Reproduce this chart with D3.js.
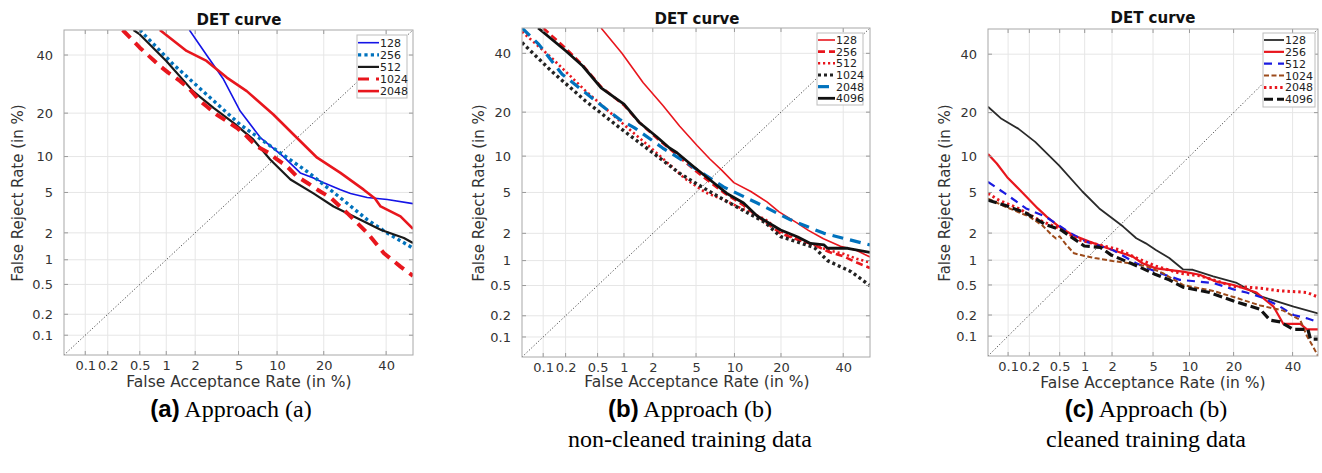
<!DOCTYPE html>
<html><head><meta charset="utf-8">
<script src="https://cdn.jsdelivr.net/npm/d3@7"></script>
<style>body{margin:0;background:#fff;} svg{display:block;font-family:"DejaVu Sans",sans-serif;}</style>
</head><body><svg id="chart" width="1322" height="473"></svg>
<script>
// ---------- data (percent: [FAR, FRR]) ----------
const tickValues = [0.1, 0.2, 0.5, 1, 2, 5, 10, 20, 40];
const tickLabels = ["0.1", "0.2", "0.5", "1", "2", "5", "10", "20", "40"];
const axisDomain = [0.05, 50];
const panelTitle = "DET curve";
const xTitle = "False Acceptance Rate (in %)";
const yTitle = "False Reject Rate (in %)";

// Panel (a) Approach (a)
const namesA = ["128", "256", "512", "1024", "2048"];
const a128 = [[1.75,50],[2.58,40],[3.7,30.9],[5.16,20.6],[7.5,13.8],[11.1,10],[14.4,7.4],[17.4,6.7],[20,6.1],[24.7,5.3],[27.8,4.9],[33.3,4.5],[40.4,4.3],[50,3.94]];
const a256 = [[0.5,50],[1.19,36.4],[2.58,25.7],[5.16,16.9],[9.4,11.6],[15.9,7.6],[24.7,4.46],[33.3,2.74],[40.4,1.99],[50,1.36]];
const a512 = [[0.42,50],[0.5,48.2],[1.0,37.7],[1.9,26.8],[3,21.5],[4.5,17.4],[6.6,13.4],[8.9,9.5],[12.4,6.5],[17.4,4.9],[22.7,3.7],[31,2.74],[38,2.16],[46.6,1.76],[50,1.55]];
const a1024 = [[0.31,50],[0.5,42.9],[0.85,35.8],[1.05,33.3],[1.4,30.3],[1.77,27.4],[2.23,23.6],[2.58,22],[3.2,19.6],[3.96,17.8],[4.83,16.1],[5.85,14.1],[7,12],[8.65,10.7],[10,9.5],[11.7,8.4],[13.7,6.9],[15.9,6.1],[19.1,5.1],[21.8,4.5],[26.7,3.2],[33.3,2.0],[39.2,1.19],[45.3,0.83],[50,0.64]];
const a2048 = [[0.85,50],[1.64,41.6],[2.58,37.7],[3.96,31.5],[5.85,26.8],[9.4,19.6],[13,14.5],[18.3,9.8],[24.7,7.4],[32.1,5.3],[36,4.4],[38,3.7],[45.3,2.96],[50,2.2]];

// Panel (b) Approach (b), non-cleaned training data
const namesB = ["128", "256", "512", "1024", "2048", "4096"];
const b128 = [[0.55,50],[0.95,40],[1.6,29.2],[2.5,22],[3.6,16.3],[5.1,12],[6.5,9.5],[8,7.8],[9.9,6.1],[13,5.1],[16.5,4.1],[19.5,3.3],[24.6,2.55],[28,2.15],[33,1.75],[39,1.45],[45,1.3],[50,1.1]];
const b256 = [[0.1,50],[0.2,42],[0.33,35.5],[0.55,27.8],[1.0,22],[1.45,17.3],[2.17,13.6],[3.4,10.2],[5,7.6],[8.3,5.0],[11.6,3.8],[14.3,3.0],[19.9,2.0],[25,1.7],[30,1.5],[35,1.25],[40,1.12],[45,0.95],[50,0.82]];
const b512 = [[0.05,48.5],[0.13,38.3],[0.36,26.4],[0.9,17.6],[2,11.2],[2.9,8.6],[4,6.6],[6,5.0],[8.3,4.3],[12,3.4],[16,2.8],[19.9,2.1],[25,1.7],[30,1.5],[35,1.3],[40,1.2],[45,1.05],[50,0.95]];
const b1024 = [[0.05,44.2],[0.13,33.3],[0.36,23.2],[0.9,15.9],[2.0,10.6],[3.6,7.3],[5,6.0],[8.3,4.3],[12,3.3],[16,2.6],[19.9,1.85],[25,1.6],[30,1.4],[34.4,1.0],[42.9,0.74],[50,0.5]];
const b2048 = [[0.05,50],[0.087,43.5],[0.18,32.2],[0.4,24.8],[0.9,18],[1.3,15.9],[2.5,11.5],[4.2,8.8],[8.3,5.6],[14.3,4.0],[22.6,2.75],[33.2,2.0],[50,1.5]];
const b4096 = [[0.085,50],[0.2,41],[0.33,35.2],[0.55,27.5],[1.0,22.3],[1.45,17.3],[2.17,13.9],[2.9,11.5],[3.4,10.6],[4.75,8.3],[6.5,6.45],[8.8,4.9],[11.6,4.0],[14.3,3.0],[19.9,2.17],[24.6,1.84],[28.7,1.56],[33.2,1.5],[34.4,1.38],[41.6,1.38],[50,1.24]];

// Panel (c) Approach (b), cleaned training data
const namesC = ["128", "256", "512", "1024", "2048", "4096"];
const c128 = [[0.05,21.7],[0.08,18.3],[0.14,15.8],[0.24,12.8],[0.49,8.5],[0.94,5.1],[1.46,3.55],[2.6,2.34],[3.5,1.76],[4.3,1.55],[5.3,1.31],[6.9,1.06],[8.9,0.78],[10.6,0.77],[14.8,0.64],[20.9,0.53],[28.2,0.36],[40.4,0.26],[50,0.21]];
const c256 = [[0.05,10.4],[0.068,8.8],[0.097,6.8],[0.15,5.2],[0.26,3.55],[0.34,2.95],[0.49,2.34],[0.72,1.91],[1.13,1.62],[2.03,1.31],[3.24,1.1],[4,0.92],[5.3,0.8],[8.9,0.73],[11.9,0.67],[15.6,0.55],[20,0.5],[27,0.4],[32.9,0.26],[36.5,0.15],[43,0.15],[45.6,0.125],[50,0.125]];
const c512 = [[0.05,6.2],[0.09,4.9],[0.18,3.55],[0.33,2.95],[0.68,2.0],[1.03,1.62],[2.03,1.31],[3.5,0.92],[5.3,0.73],[8.4,0.58],[14.8,0.53],[20,0.44],[23.8,0.4],[29.3,0.34],[35.3,0.26],[40.4,0.2],[45.6,0.18],[50,0.16]];
const c1024 = [[0.05,4.4],[0.09,3.7],[0.2,2.95],[0.3,2.4],[0.4,1.9],[0.45,1.75],[0.5,1.85],[0.6,1.5],[0.75,1.2],[1.0,1.12],[1.3,1.06],[2.03,0.98],[3,0.92],[4.3,0.85],[6.1,0.7],[8.9,0.5],[14.8,0.42],[20,0.35],[28.2,0.27],[36.5,0.23],[43,0.17],[45.6,0.1],[48,0.07],[50,0.05]];
const c2048 = [[0.05,4.9],[0.073,4.25],[0.14,3.55],[0.27,2.73],[0.49,2.24],[0.86,1.69],[1.46,1.49],[2.4,1.31],[3.5,1.06],[5.3,0.85],[8.4,0.7],[11.9,0.65],[14.8,0.58],[20,0.48],[23.8,0.47],[29.3,0.45],[35.3,0.42],[41.6,0.41],[45.6,0.4],[50,0.35]];
const c4096 = [[0.05,4.25],[0.09,3.8],[0.18,3.2],[0.33,2.45],[0.52,2.16],[0.99,1.45],[1.5,1.4],[1.95,1.15],[3.1,0.92],[4,0.8],[5.2,0.68],[6.9,0.58],[8.9,0.47],[14,0.4],[20,0.31],[28.2,0.24],[31.6,0.17],[35.3,0.16],[40.4,0.125],[46,0.125],[47,0.09],[50,0.09]];

const captionTags = ["(a)", "(b)", "(c)"];
const captionMain = ["Approach (a)", "Approach (b)", "Approach (b)"];
const captionSub = ["", "non-cleaned training data", "cleaned training data"];

// ---------- helpers ----------
function probit(p) { // inverse normal CDF (Acklam)
  const a=[-3.969683028665376e+01,2.209460984245205e+02,-2.759285104469687e+02,1.383577518672690e+02,-3.066479806614716e+01,2.506628277459239e+00];
  const b=[-5.447609879822406e+01,1.615858368580409e+02,-1.556989798598866e+02,6.680131188771972e+01,-1.328068155288572e+01];
  const c=[-7.784894002430293e-03,-3.223964580411365e-01,-2.400758277161838e+00,-2.549732539343734e+00,4.374664141464968e+00,2.938163982698783e+00];
  const d=[7.784695709041462e-03,3.224671290700398e-01,2.445134137142996e+00,3.754408661907416e+00];
  const pl=0.02425, ph=1-pl; let q, r;
  if (p < pl) { q=Math.sqrt(-2*Math.log(p)); return (((((c[0]*q+c[1])*q+c[2])*q+c[3])*q+c[4])*q+c[5])/((((d[0]*q+d[1])*q+d[2])*q+d[3])*q+1); }
  if (p <= ph) { q=p-0.5; r=q*q; return (((((a[0]*r+a[1])*r+a[2])*r+a[3])*r+a[4])*r+a[5])*q/(((((b[0]*r+b[1])*r+b[2])*r+b[3])*r+b[4])*r+1); }
  q=Math.sqrt(-2*Math.log(1-p)); return -(((((c[0]*q+c[1])*q+c[2])*q+c[3])*q+c[4])*q+c[5])/((((d[0]*q+d[1])*q+d[2])*q+d[3])*q+1);
}
const pr = v => probit(v / 100);

const RED = "#e8161d", MBLUE = "#0072BD", BLUE = "#1414e6";

const panels = [
  { box:[64,30,413,355], names:namesA, data:[a128,a256,a512,a1024,a2048],
    styles:[{c:BLUE,w:1.6},{c:MBLUE,w:3.4,d:"3.2,3.2"},{c:"#1a1a1a",w:2.2},{c:RED,w:4,d:"11,7"},{c:RED,w:2.6}],
    legend:{x:357,y:35,w:50,h:63,r0:42.7,step:12.1,s0:358,s1:379,t:380},
    titleX:239, titleY:25, xlabY:387, ylabX:18, capX:231 },
  { box:[522,28,870,357], names:namesB, data:[b128,b256,b512,b1024,b2048,b4096],
    styles:[{c:RED,w:1.6},{c:RED,w:2.6,d:"7,4"},{c:RED,w:2.6,d:"2.2,2.8"},{c:"#222",w:3.4,d:"3,3"},{c:MBLUE,w:3.2,d:"11,7"},{c:"#111",w:2.8}],
    legend:{x:817,y:33,w:46,h:72,r0:40,step:11.66,s0:818,s1:835,t:836},
    titleX:697, titleY:24, xlabY:387, ylabX:479, capX:690 },
  { box:[988,29,1318,356], names:namesC, data:[c128,c256,c512,c1024,c2048,c4096],
    styles:[{c:"#2a2a2a",w:1.8},{c:RED,w:2.2},{c:"#1a1ae0",w:2.2,d:"8,6"},{c:"#9c4a1a",w:2,d:"5,2.5"},{c:RED,w:3,d:"2.4,3"},{c:"#111",w:3.2,d:"9,4"}],
    legend:{x:1263,y:33,w:52,h:74,r0:40,step:11.85,s0:1264,s1:1284,t:1285},
    titleX:1153, titleY:23, xlabY:388, ylabX:945, capX:1146 }
];

const svg = d3.select("#chart");
svg.append("rect").attr("width",1322).attr("height",473).attr("fill","#fff");

panels.forEach((P, pi) => {
  const [L,T,R,B] = P.box;
  const xs = d3.scaleLinear().domain([pr(axisDomain[0]), pr(axisDomain[1])]).range([L,R]);
  const ys = d3.scaleLinear().domain([pr(axisDomain[0]), pr(axisDomain[1])]).range([B,T]);
  const g = svg.append("g");
  const clipId = "clip" + pi;
  svg.append("clipPath").attr("id", clipId).append("rect").attr("x",L).attr("y",T).attr("width",R-L).attr("height",B-T);

  // grid
  const tv = tickValues.map(pr);
  g.append("g").selectAll("line.gx").data(tv).join("line")
    .attr("x1", d=>xs(d)).attr("x2", d=>xs(d)).attr("y1",T).attr("y2",B)
    .attr("stroke","#e6e6e6").attr("stroke-width",1);
  g.append("g").selectAll("line.gy").data(tv).join("line")
    .attr("y1", d=>ys(d)).attr("y2", d=>ys(d)).attr("x1",L).attr("x2",R)
    .attr("stroke","#e6e6e6").attr("stroke-width",1);

  // diagonal
  g.append("line").attr("x1",xs(pr(axisDomain[0]))).attr("y1",ys(pr(axisDomain[0])))
    .attr("x2",xs(pr(axisDomain[1]))).attr("y2",ys(pr(axisDomain[1])))
    .attr("stroke","#333").attr("stroke-width",0.9).attr("stroke-dasharray","1.2,2");

  // curves
  const line = d3.line().x(d=>xs(pr(d[0]))).y(d=>ys(pr(d[1])));
  const cg = g.append("g").attr("clip-path", `url(#${clipId})`);
  P.data.forEach((ser, i) => {
    const s = P.styles[i];
    cg.append("path").datum(ser).attr("d", line).attr("fill","none")
      .attr("stroke", s.c).attr("stroke-width", s.w)
      .attr("stroke-dasharray", s.d || null).attr("stroke-linejoin","round");
  });

  // axes
  const xAxis = d3.axisBottom(xs).tickValues(tv).tickSize(0).tickPadding(6).tickFormat((d,i)=>tickLabels[i]);
  const yAxis = d3.axisLeft(ys).tickValues(tv).tickSize(0).tickPadding(11).tickFormat((d,i)=>tickLabels[i]);
  const gx = g.append("g").attr("transform",`translate(0,${B})`).call(xAxis);
  const gy = g.append("g").attr("transform",`translate(${L},0)`).call(yAxis);
  [gx, gy].forEach(a => {
    a.select(".domain").remove();
    a.selectAll("text").attr("font-size",13).attr("fill","#333").attr("font-family","DejaVu Sans, sans-serif");
  });

  // inner tick marks on all sides
  const tk = 4;
  tv.forEach(v => {
    const x = xs(v), y = ys(v);
    g.append("line").attr("x1",x).attr("x2",x).attr("y1",B).attr("y2",B-tk).attr("stroke","#999");
    g.append("line").attr("x1",x).attr("x2",x).attr("y1",T).attr("y2",T+tk).attr("stroke","#999");
    g.append("line").attr("y1",y).attr("y2",y).attr("x1",L).attr("x2",L+tk).attr("stroke","#999");
    g.append("line").attr("y1",y).attr("y2",y).attr("x1",R).attr("x2",R-tk).attr("stroke","#999");
  });

  // box
  g.append("rect").attr("x",L).attr("y",T).attr("width",R-L).attr("height",B-T)
    .attr("fill","none").attr("stroke","#a8a8a8").attr("stroke-width",1);

  // titles
  g.append("text").attr("x",P.titleX).attr("y",P.titleY).attr("text-anchor","middle")
    .attr("font-size",15).attr("font-weight","bold").attr("fill","#111").text(panelTitle);
  g.append("text").attr("x",P.titleX).attr("y",P.xlabY).attr("text-anchor","middle")
    .attr("font-size",15.5).attr("fill","#333").text(xTitle);
  g.append("text").attr("transform",`translate(${P.ylabX},193) rotate(-90)`).attr("dy","0.35em")
    .attr("text-anchor","middle").attr("font-size",15).attr("fill","#333").text(yTitle);

  // legend
  const Lg = P.legend;
  const lg = g.append("g");
  lg.append("rect").attr("x",Lg.x).attr("y",Lg.y).attr("width",Lg.w).attr("height",Lg.h)
    .attr("fill","#fff").attr("stroke","#bdbdbd").attr("stroke-width",1);
  P.names.forEach((nm, i) => {
    const s = P.styles[i];
    const yy = Lg.r0 + i*Lg.step;
    lg.append("line").attr("x1",Lg.s0).attr("x2",Lg.s1).attr("y1",yy).attr("y2",yy)
      .attr("stroke",s.c).attr("stroke-width",Math.min(s.w,3.2)).attr("stroke-dasharray", s.d || null);
    lg.append("text").attr("x",Lg.t).attr("y",yy).attr("dy","0.36em")
      .attr("font-size",11).attr("fill","#222").text(nm);
  });

  // captions
  const cap = svg.append("text").attr("x",P.capX).attr("y",417).attr("text-anchor","middle");
  cap.append("tspan").attr("font-family","Liberation Sans, Arial, sans-serif").attr("font-weight","bold")
    .attr("font-size",24).attr("fill","#000").text(captionTags[pi]);
  cap.append("tspan").attr("font-family","Liberation Serif, Times New Roman, serif")
    .attr("font-size",24).attr("fill","#000").text(" " + captionMain[pi]);
  if (captionSub[pi]) {
    svg.append("text").attr("x",P.capX).attr("y",447).attr("text-anchor","middle")
      .attr("font-family","Liberation Serif, Times New Roman, serif").attr("font-size",24)
      .attr("fill","#000").text(captionSub[pi]);
  }
});
</script>
</body></html>
